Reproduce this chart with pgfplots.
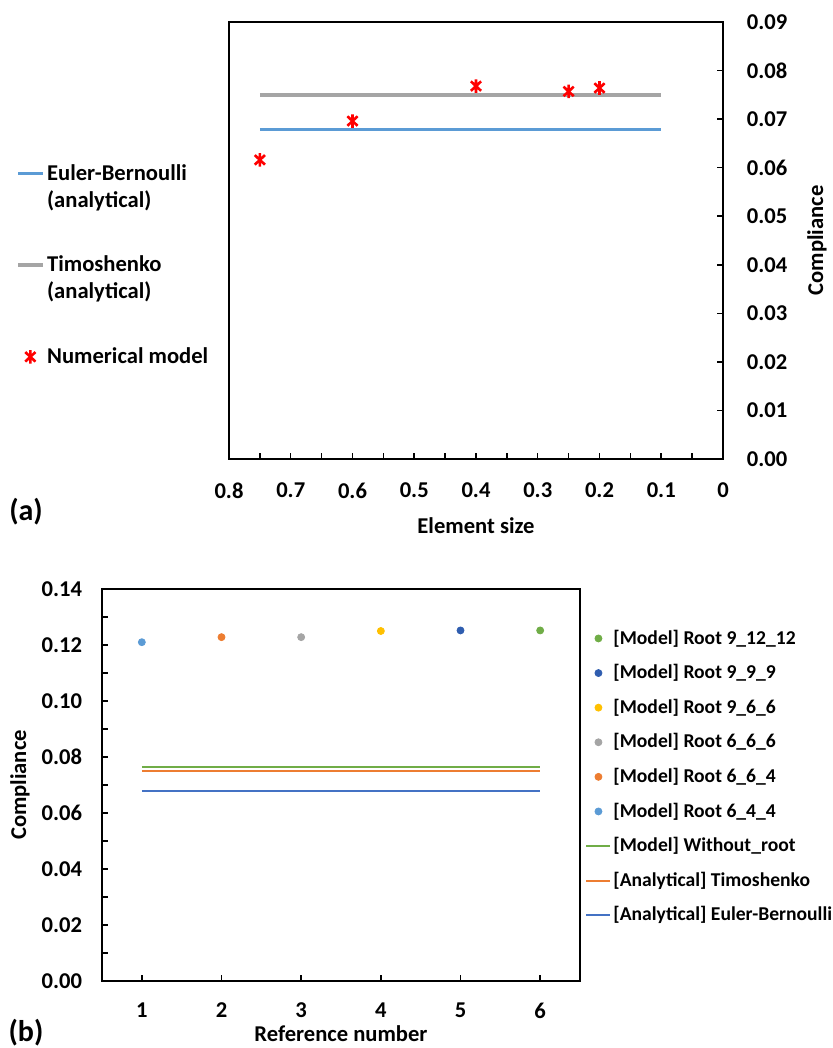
\documentclass[border=0pt]{standalone}
\usepackage{fontspec}
\setmainfont{Carlito}
\usepackage{pgfplots}
\pgfplotsset{compat=1.18}

\definecolor{ebblue}{HTML}{5B9BD5}
\definecolor{timgrey}{HTML}{A5A5A5}
\definecolor{xorange}{HTML}{ED7D31}
\definecolor{xgold}{HTML}{FFC000}
\definecolor{xdblue}{HTML}{2F5DAF}
\definecolor{xgreen}{HTML}{70AD47}
\definecolor{xblue}{HTML}{4472C4}

% Excel-like star: vertical bar plus a cross
\pgfdeclareplotmark{xlstar}{%
  \pgfpathmoveto{\pgfqpoint{0pt}{\pgfplotmarksize}}%
  \pgfpathlineto{\pgfqpoint{0pt}{-\pgfplotmarksize}}%
  \pgfpathmoveto{\pgfqpoint{-0.75\pgfplotmarksize}{0.7\pgfplotmarksize}}%
  \pgfpathlineto{\pgfqpoint{0.75\pgfplotmarksize}{-0.7\pgfplotmarksize}}%
  \pgfpathmoveto{\pgfqpoint{-0.75\pgfplotmarksize}{-0.7\pgfplotmarksize}}%
  \pgfpathlineto{\pgfqpoint{0.75\pgfplotmarksize}{0.7\pgfplotmarksize}}%
  \pgfusepathqstroke}

\pgfplotsset{
  lineleg/.style={legend image code/.code={\draw[##1] (0pt,0pt) -- (12pt,0pt);}},
  lineleghi/.style={legend image code/.code={\draw[##1] (0pt,7pt) -- (12.5pt,7pt);}},
  markleg/.style={legend image code/.code={\draw[##1] plot coordinates {(6pt,0pt)};}},
  every axis/.append style={
    scale only axis,
    /pgf/number format/assume math mode=true,
    ticklabel style={font=\bfseries},
    label style={font=\bfseries},
    axis line style={line width=0.75pt},
    tick style={line width=0.75pt, black},
    tick align=inside,
    major tick length=3pt, minor tick length=3pt,
    scaled ticks=false,
    legend cell align=left,
    legend style={draw=none, fill=none, font=\bfseries, nodes={inner sep=1pt}},
  },
}

\begin{document}
\fontsize{11.3}{13.6}\selectfont
\begin{tikzpicture}
\useasboundingbox (0,0) rectangle (416.5pt,524pt);

% (a) compliance against element size
\begin{axis}[
  at={(114.5pt,294.5pt)}, anchor=south west,
  width=247pt, height=218.5pt,
  xmin=0, xmax=0.8, x dir=reverse,
  ymin=0, ymax=0.09,
  xtick={0,0.1,0.2,0.3,0.4,0.5,0.6,0.7,0.8}, minor x tick num=1,
  ytick={0,0.01,0.02,0.03,0.04,0.05,0.06,0.07,0.08,0.09},
  xtick pos=left, ytick pos=right, yticklabel pos=right,
  xticklabel style={/pgf/number format/fixed, /pgf/number format/precision=1, yshift=-8pt},
  yticklabel style={/pgf/number format/fixed, /pgf/number format/fixed zerofill,
    /pgf/number format/precision=2, xshift=8pt},
  xlabel={Element size},
  xlabel style={at={(axis description cs:0.5,0)}, anchor=center, yshift=-33.5pt},
  ylabel={Compliance},
  ylabel style={at={(axis description cs:1,0.5)}, anchor=center, yshift=-47pt},
  legend style={at={(-0.443,0.689)}, anchor=north west, row sep=20.5pt, cells={align=left}},
]
\addplot[ebblue, line width=1.8pt, lineleghi] coordinates {(0.75,0.0679) (0.1,0.0679)};
\addlegendentry{Euler-Bernoulli\\(analytical)}
\addplot[timgrey, line width=1.8pt, lineleghi] coordinates {(0.75,0.0750) (0.1,0.0750)};
\addlegendentry{Timoshenko\\(analytical)}
\addplot[red, only marks, mark=xlstar, mark size=3.4pt, line width=1.3pt, markleg] coordinates {
  (0.75,0.0616) (0.6,0.0696) (0.4,0.0768) (0.25,0.0757) (0.2,0.0764)};
\addlegendentry{Numerical model}
\end{axis}

% (b) compliance against reference number
\begin{axis}[
  at={(51pt,33.5pt)}, anchor=south west,
  width=239pt, height=196pt,
  xmin=0.5, xmax=6.5, xtick={1,2,3,4,5,6},
  ymin=0, ymax=0.14,
  ytick={0,0.02,0.04,0.06,0.08,0.1,0.12,0.14}, minor y tick num=1,
  xtick pos=left, ytick pos=left,
  xticklabel style={yshift=-7pt},
  yticklabel style={/pgf/number format/fixed, /pgf/number format/fixed zerofill,
    /pgf/number format/precision=2, xshift=-6pt},
  xlabel={Reference number},
  xlabel style={at={(axis description cs:0.5,0)}, anchor=center, yshift=-26.5pt},
  ylabel={Compliance},
  ylabel style={at={(axis description cs:0,0.5)}, anchor=center, yshift=41pt},
  legend style={at={(0.998,0.919)}, anchor=north west, row sep=4pt,
    font=\fontsize{9.8}{11.8}\selectfont\bfseries,
    nodes={text height=8.5pt, text depth=2.8pt}},
]
\addplot[xgreen, only marks, mark=*, mark size=1.75pt, markleg] coordinates {(6,0.1252)};
\addlegendentry{[Model] Root 9\_12\_12}
\addplot[xdblue, only marks, mark=*, mark size=1.75pt, markleg] coordinates {(5,0.1252)};
\addlegendentry{[Model] Root 9\_9\_9}
\addplot[xgold, only marks, mark=*, mark size=1.75pt, markleg] coordinates {(4,0.1250)};
\addlegendentry{[Model] Root 9\_6\_6}
\addplot[timgrey, only marks, mark=*, mark size=1.75pt, markleg] coordinates {(3,0.1228)};
\addlegendentry{[Model] Root 6\_6\_6}
\addplot[xorange, only marks, mark=*, mark size=1.75pt, markleg] coordinates {(2,0.1228)};
\addlegendentry{[Model] Root 6\_6\_4}
\addplot[ebblue, only marks, mark=*, mark size=1.75pt, markleg] coordinates {(1,0.1210)};
\addlegendentry{[Model] Root 6\_4\_4}
\addplot[xgreen, line width=1pt, lineleg] coordinates {(1,0.0765) (6,0.0765)};
\addlegendentry{[Model] Without\_root}
\addplot[xorange, line width=1pt, lineleg] coordinates {(1,0.0749) (6,0.0749)};
\addlegendentry{[Analytical] Timoshenko}
\addplot[xblue, line width=1pt, lineleg] coordinates {(1,0.0677) (6,0.0677)};
\addlegendentry{[Analytical] Euler-Bernoulli}
\end{axis}

\node[font=\fontsize{15}{18}\selectfont\bfseries] at (13pt,268pt) {(a)};
\node[font=\fontsize{15}{18}\selectfont\bfseries] at (13pt,7.5pt) {(b)};
\end{tikzpicture}
\end{document}
